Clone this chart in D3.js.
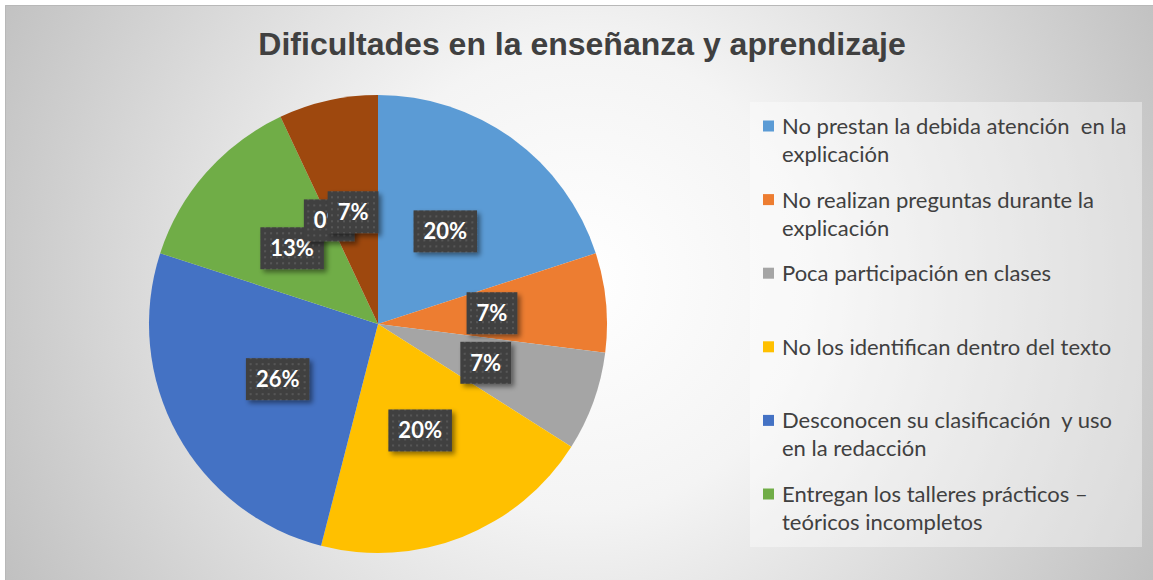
<!DOCTYPE html>
<html>
<head>
<meta charset="utf-8">
<script src="https://cdn.jsdelivr.net/npm/d3@7"></script>
<style>
  html, body { margin: 0; padding: 0; background: #ffffff; }
  svg { display: block; }
</style>
</head>
<body>
<svg id="chart" width="1153" height="580"></svg>
<script>
// ---- data ----
const title = "Dificultades en la enseñanza y aprendizaje";
const categories = [
  "No prestan la debida atención  en la explicación",
  "No realizan preguntas durante la explicación",
  "Poca participación en clases",
  "No los identifican dentro del texto",
  "Desconocen su clasificación  y uso en la redacción",
  "Entregan los talleres prácticos – teóricos incompletos",
  "Categoría 7",
  "Categoría 8"
];
const legendLines = [
  ["No prestan la debida atención  en la", "explicación"],
  ["No realizan preguntas durante la", "explicación"],
  ["Poca participación en clases"],
  ["No los identifican dentro del texto"],
  ["Desconocen su clasificación  y uso", "en la redacción"],
  ["Entregan los talleres prácticos –", "teóricos incompletos"]
];
const values = [20, 7, 7, 20, 26, 13, 0, 7];   // percent
const colors = ["#5B9BD5", "#ED7D31", "#A5A5A5", "#FFC000", "#4472C4", "#70AD47", "#255E91", "#9E480E"];

// ---- setup ----
const svg = d3.select("#chart");
const W = 1153, H = 580;
const defs = svg.append("defs");

const rg = defs.append("radialGradient").attr("id", "bg")
  .attr("gradientUnits", "userSpaceOnUse")
  .attr("cx", 580).attr("cy", 280).attr("r", 660);
rg.append("stop").attr("offset", 0).attr("stop-color", "#ffffff");
rg.append("stop").attr("offset", 0.35).attr("stop-color", "#f4f4f4");
rg.append("stop").attr("offset", 1).attr("stop-color", "#bfbfbf");

const pat = defs.append("pattern").attr("id", "dots")
  .attr("patternUnits", "userSpaceOnUse").attr("width", 6).attr("height", 6);
pat.append("rect").attr("width", 6).attr("height", 6).attr("fill", "#404040");
pat.append("rect").attr("x", 2).attr("y", 2).attr("width", 2).attr("height", 2).attr("fill", "#575757");

const sh = defs.append("filter").attr("id", "shadow")
  .attr("x", "-30%").attr("y", "-30%").attr("width", "170%").attr("height", "170%");
sh.append("feDropShadow").attr("dx", 3).attr("dy", 3).attr("stdDeviation", 2.5)
  .attr("flood-color", "#000").attr("flood-opacity", 0.45);

// background
svg.append("rect").attr("x", 5).attr("y", 5).attr("width", W - 5).attr("height", H - 5)
  .attr("fill", "url(#bg)");
svg.append("path").attr("d", `M5.5,${H} V5.5 H${W}`).attr("fill", "none")
  .attr("stroke", "#b8b8b8").attr("stroke-width", 1);

// title
svg.append("text").attr("x", 582).attr("y", 55).attr("text-anchor", "middle")
  .attr("font-family", "Liberation Sans, Arial, sans-serif").attr("font-weight", "bold")
  .attr("font-size", 32).attr("fill", "#404040").text(title);

// ---- pie ----
const cx = 378, cy = 324, R = 229;
const pie = d3.pie().sort(null).value(d => d)(values);
const arc = d3.arc().innerRadius(0).outerRadius(R);
const g = svg.append("g").attr("transform", `translate(${cx},${cy})`);
g.selectAll("path.slice").data(pie).enter().append("path")
  .attr("class", "slice").attr("d", arc)
  .attr("fill", (d, i) => colors[i]);

// labels
const lab = g.selectAll("g.lab").data(pie).enter().append("g").attr("class", "lab")
  .attr("transform", d => `translate(${arc.centroid(d)})`);
lab.each(function(d) {
  const gg = d3.select(this);
  const txt = d.data + "%";
  const t = gg.append("text").attr("text-anchor", "middle").attr("dy", "0.36em")
    .attr("font-family", "Lato, sans-serif").attr("font-weight", "bold")
    .attr("font-size", 22).attr("fill", "#ffffff").text(txt);
  const bb = t.node().getBBox();
  const bw = bb.width + 20, bh = 42;
  gg.insert("rect", "text").attr("x", -bw / 2).attr("y", -bh / 2)
    .attr("width", bw).attr("height", bh).attr("fill", "url(#dots)")
    .attr("filter", "url(#shadow)");
});

// ---- legend ----
svg.append("rect").attr("x", 750).attr("y", 102).attr("width", 392).attr("height", 445)
  .attr("fill", "#ffffff").attr("fill-opacity", 0.38);
const lg = svg.append("g");
legendLines.forEach((lines, i) => {
  const y0 = 126 + i * 73.6;
  lg.append("rect").attr("x", 763).attr("y", y0 - 5.5).attr("width", 11).attr("height", 11)
    .attr("fill", colors[i]);
  const t = lg.append("text").attr("x", 782).attr("y", y0)
    .attr("font-family", "Lato, sans-serif").attr("font-size", 22)
    .attr("fill", "#404040").style("white-space", "pre");
  lines.forEach((ln, j) => {
    t.append("tspan").attr("x", 782).attr("y", y0 + j * 28).attr("dy", "0.36em").text(ln);
  });
});
</script>
</body>
</html>
